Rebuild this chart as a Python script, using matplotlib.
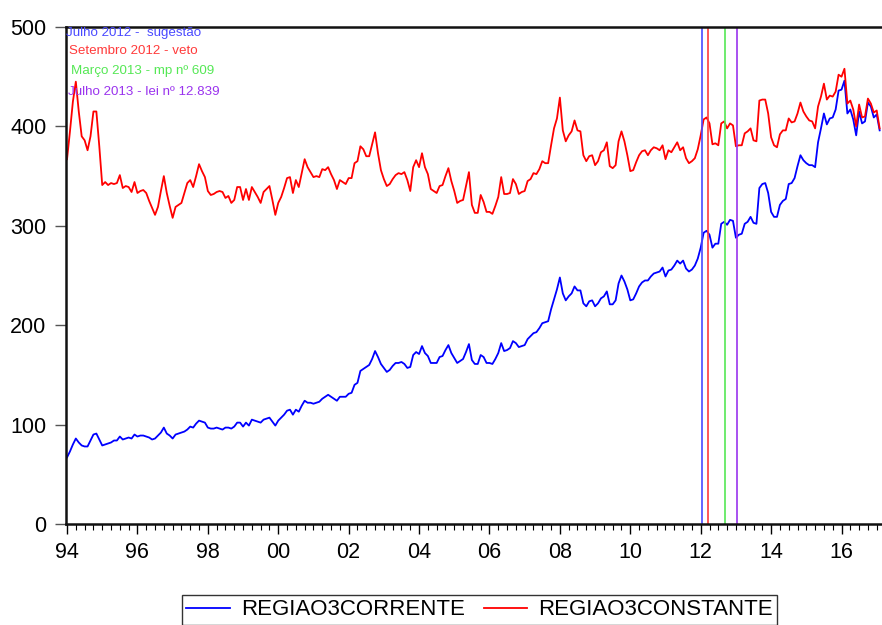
import numpy as np
import matplotlib
matplotlib.use("Agg")
import matplotlib.pyplot as plt

# monthly series, starting July 1994
start_year = 1994
start_month = 7

regiao3constante = [
    367, 395, 425, 445, 415, 390, 386, 376, 390, 415, 415, 380,
    341, 344, 341, 343, 342, 343, 351, 338, 340, 339, 334, 344,
    333, 335, 336, 333, 325, 318, 311, 319, 335, 350, 333, 320,
    308, 319, 321, 323, 333, 343, 346, 339, 350, 362, 355, 349,
    335, 331, 332, 334, 335, 334, 328, 330, 323, 326, 339, 339,
    326, 337, 326, 339, 334, 329, 323, 334, 337, 340, 326, 311,
    323, 329, 338, 348, 349, 333, 346, 339, 353, 367, 359, 354,
    349, 350, 349, 357, 356, 359, 352, 346, 337, 346, 344, 342,
    348, 348, 363, 365, 380, 377, 370, 370, 382, 394, 373, 356,
    347, 340, 342, 347, 351, 353, 352, 354, 346, 335, 359, 366,
    359, 373, 359, 352, 337, 335, 333, 340, 341, 350, 358, 345,
    335, 323, 325, 326, 340, 354, 321, 313, 313, 331, 324, 314,
    314, 312, 320, 329, 349, 332, 332, 333, 347, 342, 332, 334,
    335, 345, 347, 353, 352, 357, 365, 363, 363, 381, 398, 408,
    429, 396, 385, 391, 395, 406, 396, 395, 371, 365, 370, 371,
    361, 365, 374, 376, 384, 360, 358, 361, 385, 395, 385, 371,
    355, 356, 364, 371, 375, 376, 371, 376, 379, 378, 376, 381,
    367, 376, 374, 379, 384, 376, 379, 368, 363, 365, 368, 377,
    391, 407, 409, 403, 382, 383, 381, 403, 405, 398, 403, 401,
    380, 381, 381, 393, 395, 398, 386, 385, 426, 427, 427, 413,
    389, 381, 379, 392, 396, 396, 408, 404, 405, 413, 424, 415,
    410, 406, 405, 398, 420, 430, 443, 427, 431, 430, 435, 452,
    450, 458, 423, 426, 417, 400, 422, 409, 410, 428, 423, 414,
    416, 398,
]

regiao3corrente = [
    67, 73, 80, 86, 82, 79, 78, 78, 84, 90, 91, 85,
    79, 80, 81, 82, 84, 84, 88, 85, 86, 87, 86, 90,
    88, 89, 89, 88, 87, 85, 86, 89, 92, 97, 91, 89,
    86, 90, 91, 92, 93, 95, 98, 97, 101, 104, 103, 102,
    97, 96, 96, 97, 96, 95, 97, 97, 96, 98, 102, 102,
    98, 102, 99, 105, 104, 103, 102, 105, 106, 107, 103, 99,
    104, 107, 110, 114, 115, 110, 115, 113, 119, 124, 122, 122,
    121, 122, 123, 126, 128, 130, 128, 126, 124, 128, 128, 128,
    131, 132, 140, 142, 154, 156, 158, 160, 166, 174, 168, 161,
    157, 153, 155, 159, 162, 162, 163, 161, 157, 158, 170, 173,
    171, 179, 172, 169, 162, 162, 162, 168, 169, 175, 180, 172,
    167, 162, 164, 166, 173, 181, 165, 161, 161, 170, 168, 162,
    162, 161, 166, 172, 182, 174, 175, 177, 184, 182, 178, 179,
    180, 186, 189, 192, 193, 197, 202, 203, 204, 216, 226, 236,
    248, 232, 225, 229, 232, 239, 235, 235, 222, 219, 224, 225,
    219, 222, 227, 229, 234, 221, 221, 225, 242, 250, 244, 236,
    225, 226, 232, 239, 243, 245, 245, 249, 252, 253, 254, 258,
    249, 255, 256, 260, 265, 262, 265, 257, 254, 256, 260, 267,
    278, 293, 295, 291, 278, 282, 282, 302, 304, 301, 306, 305,
    288, 291, 292, 302, 304, 309, 303, 302, 338, 342, 343, 333,
    314, 309, 309, 321, 325, 327, 342, 343, 348, 360, 371, 366,
    363, 361, 361, 359, 384, 398, 413, 402, 408, 409, 417, 436,
    437, 446, 413, 417, 407, 391, 415, 403, 405, 424, 420, 409,
    412, 396,
]

# events marked with vertical lines (year, month)
event_labels = [
    "Julho 2012 -  sugestão",
    "Setembro 2012 - veto",
    "Março 2013 - mp nº 609",
    "Julho 2013 - lei nº 12.839",
]
event_dates = [(2012, 7), (2012, 9), (2013, 3), (2013, 7)]
event_colors = ["#4a4aff", "#ff3a3a", "#55e855", "#9a33ee"]

year_labels = ["94", "96", "98", "00", "02", "04", "06",
               "08", "10", "12", "14", "16"]


def month_index(year, month):
    return (year - start_year) * 12 + (month - start_month)


def main():
    plt.rcParams['font.family'] = ['Liberation Sans', 'DejaVu Sans']
    fig = plt.figure(figsize=(8.82, 6.25), dpi=100)
    ax = fig.add_axes([66 / 882, 1 - 524 / 625, 816 / 882, 497 / 625])

    x = np.arange(len(regiao3corrente))
    ax.plot(x, regiao3corrente, color="#0000ff", lw=1.3,
            label="REGIAO3CORRENTE")
    ax.plot(x[:len(regiao3constante)], regiao3constante, color="#ff0000",
            lw=1.3, label="REGIAO3CONSTANTE")

    for (yy, mm), col in zip(event_dates, event_colors):
        ax.axvline(month_index(yy, mm) + 0.4, color=col, lw=1.2)

    ax.set_xlim(-0.35, 277.8)
    ax.set_ylim(0, 500)

    major = [24 * i for i in range(len(year_labels))]
    ax.set_xticks(major)
    ax.set_xticklabels(year_labels)
    ax.set_xticks(np.arange(0, 278, 3), minor=True)
    ax.set_yticks([0, 100, 200, 300, 400, 500])
    ax.tick_params(axis='x', which='major', direction='out', length=7,
                   width=1, labelsize=15.5, pad=6)
    ax.tick_params(axis='x', which='minor', direction='out', length=4,
                   width=0.8)
    ax.tick_params(axis='y', direction='out', length=8, width=1,
                   labelsize=15.5, pad=6, colors='#555555',
                   labelcolor='black')

    for side in ["left", "top", "bottom"]:
        ax.spines[side].set_linewidth(1.8)
        ax.spines[side].set_color("#111111")
    ax.spines["right"].set_visible(False)

    text_pos = [(66, 33), (69, 51), (71, 71), (68, 92)]
    for label, col, (px, py) in zip(event_labels, event_colors, text_pos):
        fig.text(px / 882, 1 - py / 625, label, color=col, fontsize=9.6,
                 ha="left", va="center")

    leg = fig.legend(loc="upper center",
                     bbox_to_anchor=(479.5 / 882, 1 - 595 / 625),
                     ncol=2, fontsize=16, frameon=True, fancybox=False,
                     handlelength=1.95, handletextpad=0.5,
                     columnspacing=0.85, borderpad=0.2, borderaxespad=0)
    leg.get_frame().set_edgecolor("black")
    leg.get_frame().set_linewidth(1.0)

    fig.savefig("out.png", dpi=100)
    plt.close("all")


if __name__ == "__main__":
    main()
